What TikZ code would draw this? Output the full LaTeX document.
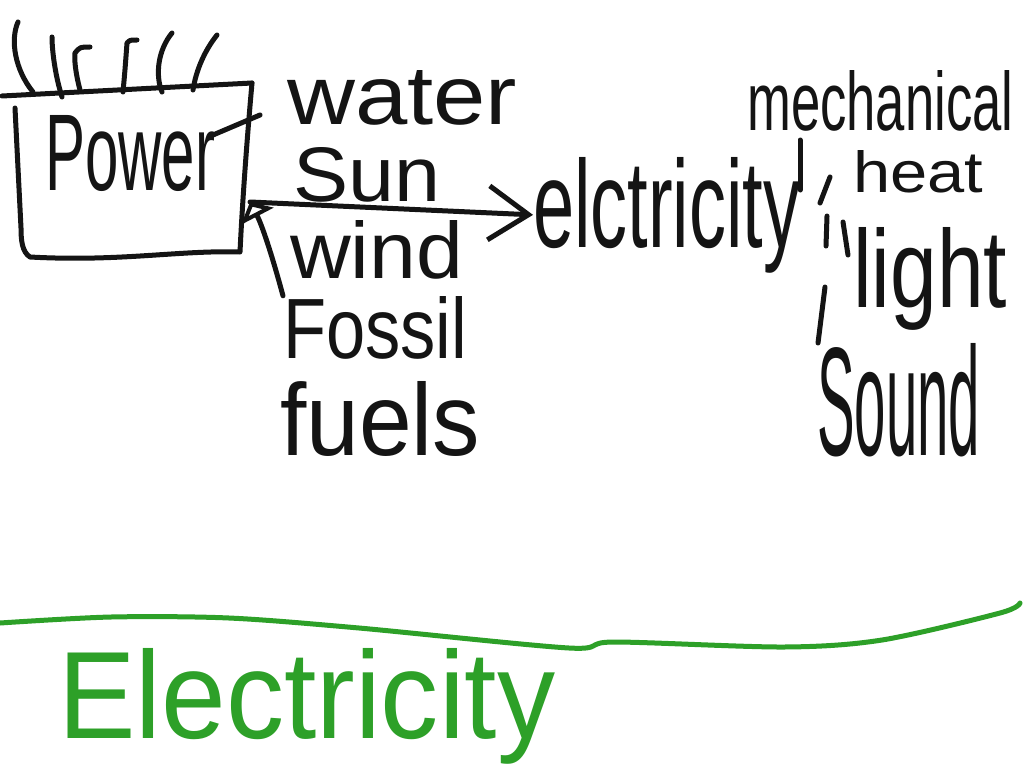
\documentclass[tikz,border=0pt]{standalone}
\usepackage{fontspec}
\setmainfont{Liberation Sans}
\usetikzlibrary{arrows.meta}
\definecolor{ink}{RGB}{20,20,20}
\definecolor{pen}{RGB}{45,160,40}
\newcommand{\hw}[3]{\resizebox{#1pt}{#2pt}{#3}}
\begin{document}
\begin{tikzpicture}[x=1pt,y=-1pt,
  stroke/.style={draw=ink,line width=5pt,line cap=round,line join=round},
  greenline/.style={draw=pen,line width=5pt,line cap=round,line join=round},
  txt/.style={inner sep=0pt,anchor=base west,text=ink}]
\useasboundingbox (0,0) rectangle (1024,768);
\fill[white] (0,0) rectangle (1024,768);

% Power box
\draw[stroke] (2,96) -- (252,83);
\draw[stroke] (252,83) .. controls (246,150) and (242,210) .. (240,252)
  .. controls (180,250) and (120,262) .. (30,257)
  .. controls (22,252) and (21,240) .. (21,228) -- (15,108);
% squiggles above the box
\draw[stroke] (33,92) .. controls (15,70) and (10,40) .. (18,22);
\draw[stroke] (62,97) .. controls (55,75) and (52,50) .. (52,37);
\draw[stroke] (80,90) .. controls (76,75) and (74,60) .. (75,53) .. controls (80,47) .. (90,47);
\draw[stroke] (123,92) .. controls (125,70) .. (127,43) .. controls (130,40) .. (137,40);
\draw[stroke] (162,92) .. controls (155,75) and (158,50) .. (172,33);
\draw[stroke] (193,90) .. controls (196,70) and (205,50) .. (217,35);

\node[txt] (power) at (45,190) {\hw{170}{75}{Power}};
\draw[stroke] (213,135) -- (260,115);

% sources
\node[txt] (water) at (287,124) {\hw{230}{54}{water}};
\node[txt] (sun) at (293,201) {\hw{147}{54}{Sun}};
\node[txt] (wind) at (290,278) {\hw{173}{58}{wind}};
\node[txt] (fossil) at (283,358) {\hw{184}{62}{Fossil}};
\node[txt] (fuels) at (280,455) {\hw{200}{74}{fuels}};

% electricity
\node[txt] (elec) at (533,247) {\hw{267}{90}{elctricity}};

% outputs
\node[txt] (mech) at (747,130) {\hw{266}{60}{mechanical}};
\node[txt] (heat) at (853,192) {\hw{130}{42}{heat}};
\node[txt] (light) at (853,307) {\hw{154}{80}{light}};
\node[txt] (sound) at (817,455) {\hw{163}{112}{Sound}};

% connectors
\coordinate (boxE) at (250,202);
\draw[stroke,-{Straight Barb[length=40pt,width=54pt]}] (boxE) -- (elec.west);
\draw[stroke,-{Triangle[open,length=16pt,width=36pt]}] (fossil.north west) .. controls (272,255) and (262,225) .. (boxE);

\coordinate (m1a) at (800,140); \coordinate (m1b) at (800,190);
\coordinate (h1a) at (830,177); \coordinate (h1b) at (820,203);
\coordinate (l1a) at (827,216); \coordinate (l1b) at (826,246);
\coordinate (l2a) at (843,222); \coordinate (l2b) at (848,255);
\coordinate (s1a) at (825,287); \coordinate (s1b) at (818,343);
\draw[stroke] (m1a) -- (m1b);
\draw[stroke] (h1a) -- (h1b);
\draw[stroke] (l1a) -- (l1b);
\draw[stroke] (l2a) -- (l2b);
\draw[stroke] (s1a) -- (s1b);

% green part
\draw[greenline] plot[smooth] coordinates {(0,623) (111,617) (229,618) (359,628) (569,648) (614,642) (784,647) (882,640) (1000,613) (1020,603)};
\node[txt,text=pen] (title) at (58,738) {\hw{497}{90}{Electricity}};
\end{tikzpicture}
\end{document}
